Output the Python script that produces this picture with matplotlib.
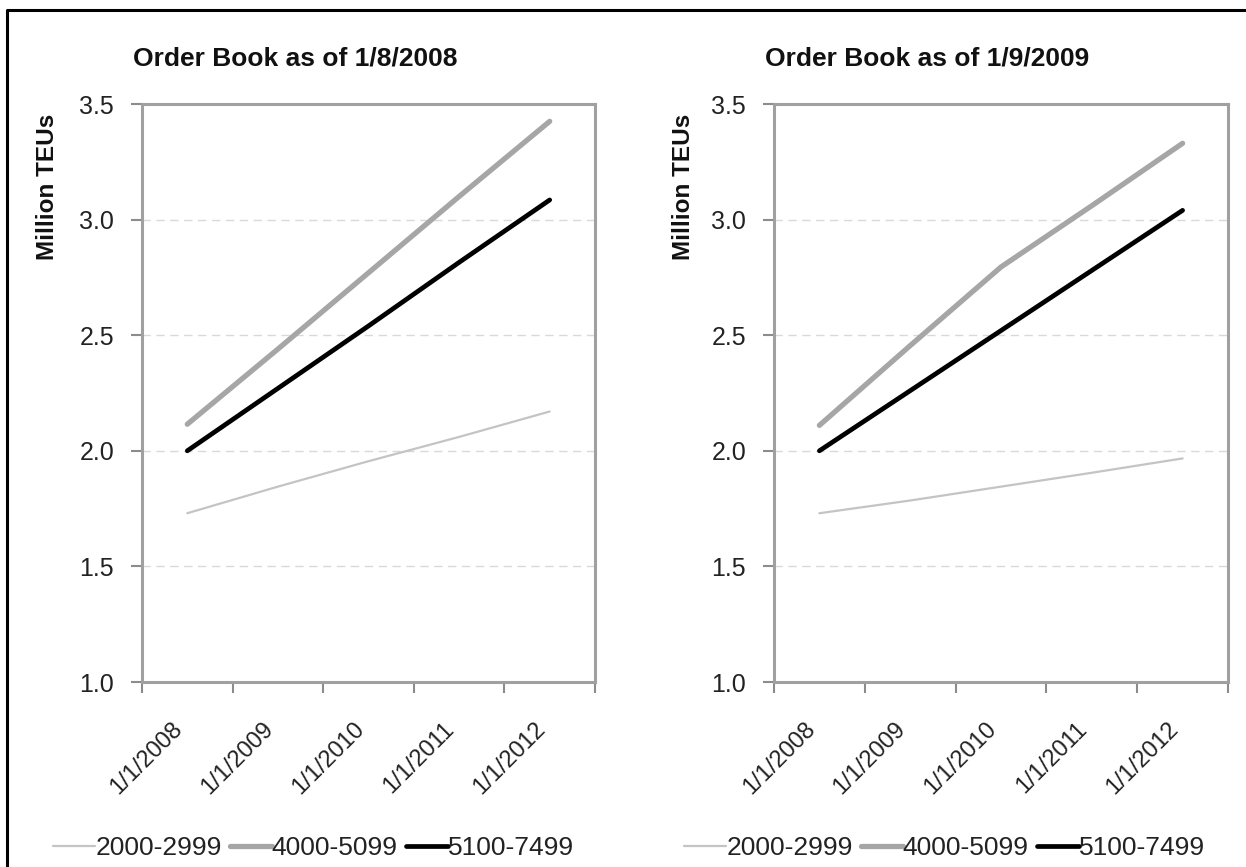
import matplotlib
matplotlib.use("Agg")
import matplotlib.pyplot as plt
from matplotlib.lines import Line2D
from matplotlib.transforms import ScaledTranslation

# ---------------- data ----------------
categories = ["1/1/2008", "1/1/2009", "1/1/2010", "1/1/2011", "1/1/2012"]
series_names = ["2000-2999", "4000-5099", "5100-7499"]
titles = ["Order Book as of 1/8/2008", "Order Book as of 1/9/2009"]

p1_2000_2999 = [1.73, 1.845, 1.955, 2.06, 2.17]
p1_4000_5099 = [2.115, 2.44, 2.77, 3.10, 3.425]
p1_5100_7499 = [2.00, 2.27, 2.54, 2.815, 3.085]

p2_2000_2999 = [1.73, 1.785, 1.845, 1.905, 1.967]
p2_4000_5099 = [2.11, 2.455, 2.795, 3.06, 3.33]
p2_5100_7499 = [2.00, 2.26, 2.52, 2.78, 3.04]

y_ticks = [1.0, 1.5, 2.0, 2.5, 3.0, 3.5]

FN = "Liberation Sans"

W, H = 1246, 867
fig = plt.figure(figsize=(W / 100, H / 100), dpi=100)

styles = [
    dict(color="#c4c4c4", lw=1.6),
    dict(color="#a6a6a6", lw=3.8),
    dict(color="#000000", lw=3.4),
]

panels = [
    (142, 595, [p1_2000_2999, p1_4000_5099, p1_5100_7499], 48, 53),
    (774, 1228, [p2_2000_2999, p2_4000_5099, p2_5100_7499], 683, 684),
]

x = list(range(len(categories)))
shift = ScaledTranslation(5 / 100, 0, fig.dpi_scale_trans)
for i, (left, right, data, ylab_x, leg_x) in enumerate(panels):
    top, bottom = 104, 682
    ax = fig.add_axes([left / W, 1 - bottom / H, (right - left) / W, (bottom - top) / H])
    handles = []
    for vals, st, name in zip(data, styles, series_names):
        h, = ax.plot(x, vals, color=st["color"], lw=st["lw"], solid_capstyle="round",
                     label=name, zorder=3)
        handles.append(h)
    ax.set_xlim(-0.5, len(categories) - 0.5)
    ax.set_ylim(1.0, 3.5)
    ax.set_yticks(y_ticks)
    ax.set_yticklabels([f"{v:.1f}" for v in y_ticks], fontfamily=FN,
                       fontsize=18, color="#222222")
    ax.set_xticks(x)
    ax.set_xticklabels(categories, rotation=45, ha="right", fontfamily=FN,
                       fontsize=17, color="#222222")
    for lab in ax.get_xticklabels():
        lab.set_transform(lab.get_transform() + shift)
    ax.set_xticks([v - 0.5 for v in range(len(categories) + 1)], minor=True)
    ax.tick_params(axis="x", which="major", length=0, pad=26)
    ax.tick_params(axis="x", which="minor", length=8, width=1.5, color="#8c8c8c",
                   direction="out")
    ax.tick_params(axis="y", which="major", length=8, width=1.5, color="#8c8c8c",
                   direction="out", pad=12)
    for s in ax.spines.values():
        s.set_color("#a0a0a0")
        s.set_linewidth(2.2)
    for yv in y_ticks[1:-1]:
        ax.axhline(yv, color="#d9d9d9", lw=1.0, ls=(0, (6, 4)), zorder=1)

    fig.text((left - 9) / W, 1 - 66 / H, titles[i], fontfamily=FN, fontweight="bold",
             fontsize=19, ha="left", va="baseline", color="#111111")
    fig.text(ylab_x / W, 1 - 187 / H, "Million TEUs", fontfamily=FN, fontweight="bold",
             fontsize=17.5, rotation=90, ha="center", va="center", color="#111111")

    leg = ax.legend(handles=handles, loc="center left", ncol=3, frameon=False,
                    bbox_to_anchor=(leg_x / W, 1 - 848 / H), bbox_transform=fig.transFigure,
                    prop={"family": FN, "size": 19}, handlelength=1.6, handletextpad=0.0,
                    columnspacing=0.3, borderpad=0, borderaxespad=0)
    for t in leg.get_texts():
        t.set_color("#222222")

# outer black frame (left and top edges)
fig.add_artist(Line2D([7 / W, 7 / W, 1.0], [0.0, 1 - 10 / H, 1 - 10 / H],
                      transform=fig.transFigure, color="black", lw=2.2))

fig.savefig("out.png", dpi=100, facecolor="white")
